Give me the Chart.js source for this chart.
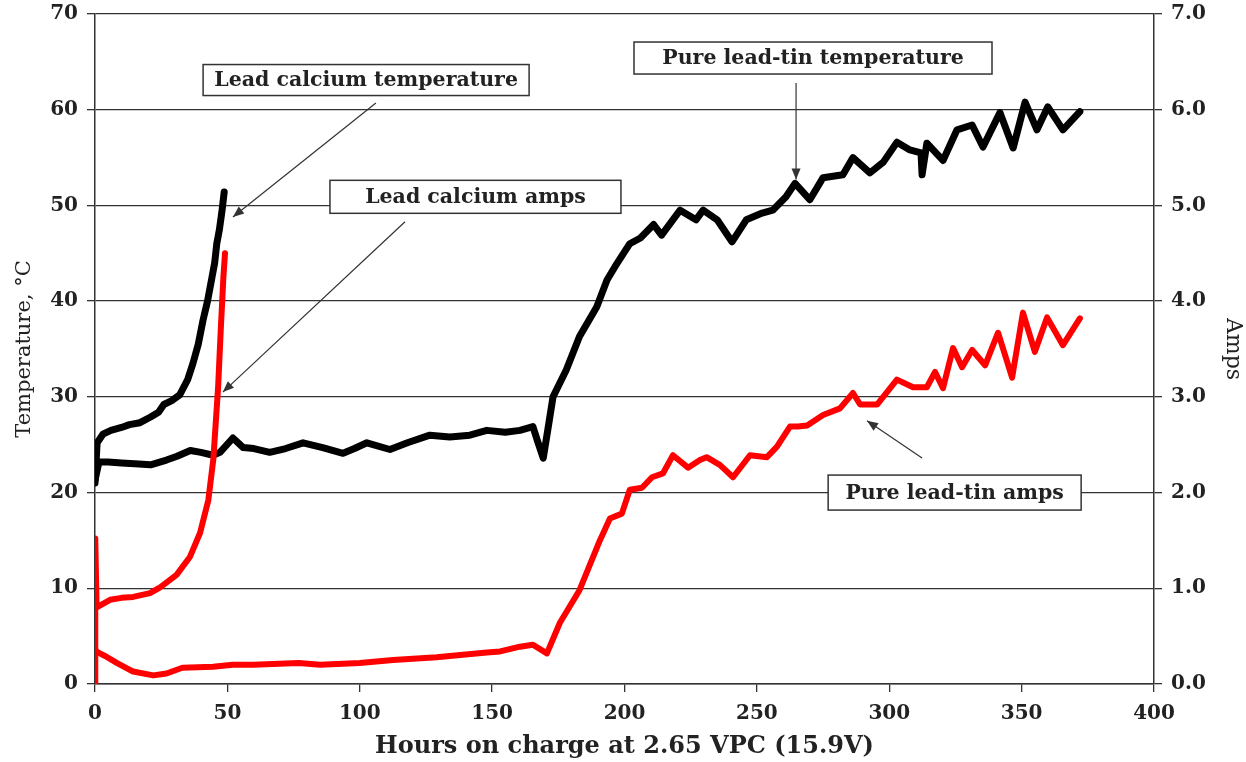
<!DOCTYPE html>
<html>
<head>
<meta charset="utf-8">
<script src="https://cdn.jsdelivr.net/npm/chart.js@4.4.1/dist/chart.umd.min.js"></script>
<style>
  html, body { margin: 0; padding: 0; background: #fff; }
  #wrap { width: 1246px; height: 762px; position: relative; }
</style>
</head>
<body>
<div id="wrap"><canvas id="myChart"></canvas></div>
<script>
// Enter your code below

// readings taken off the original figure (hours on charge)
let lcTempHours = [0, 0.8, 3, 6, 10, 13, 17, 21, 24, 26, 29, 32, 35, 37, 39, 40.8, 42.5, 44.2, 45.2, 46, 47, 48, 48.8];
let lcTempC = [21, 25.2, 26.1, 26.5, 26.8, 27.1, 27.3, 27.9, 28.4, 29.2, 29.6, 30.2, 31.8, 33.5, 35.5, 38, 40, 42.5, 44, 46, 47.5, 49.5, 51.4];

let lcAmpsHours = [0, 0.1, 0.6, 5.7, 10, 14.4, 20.8, 24.6, 30.8, 35.9, 39.7, 42.8, 44.7, 46.5, 47.5, 48.5, 49.1];
let lcAmps = [0, 1.52, 0.8, 0.88, 0.9, 0.91, 0.95, 1.01, 1.14, 1.33, 1.58, 1.92, 2.35, 3.1, 3.7, 4.25, 4.5];

let ptTempHours = [0, 1.5, 5, 10, 15, 21, 27, 31, 36, 40, 44.6, 47.2, 52.1, 56, 60, 66, 72, 78.6, 86, 93.7, 98, 102.7, 111.4, 118, 126.5, 134, 141.6, 148, 155, 160.5, 165.4, 167, 169.3, 171, 173, 178, 183, 189.5, 193.4, 196.4, 202, 206, 211, 214, 221, 227, 229.7, 235, 240.6, 246, 252, 256, 261, 264.4, 270, 275, 282.5, 286.3, 292.7, 297.7, 302.9, 307.8, 312, 312.4, 314.2, 320.3, 325.6, 331.3, 335.4, 341.8, 346.8, 351.3, 355.8, 359.9, 365.6, 372];
let ptTempC = [21.3, 23.2, 23.2, 23.1, 23.0, 22.9, 23.4, 23.8, 24.4, 24.2, 23.9, 24.2, 25.7, 24.7, 24.6, 24.2, 24.6, 25.2, 24.7, 24.1, 24.6, 25.2, 24.5, 25.2, 26.0, 25.8, 26.0, 26.5, 26.3, 26.5, 26.9, 25.5, 23.6, 26.5, 30, 32.8, 36.3, 39.4, 42.2, 43.6, 46, 46.6, 48, 46.9, 49.5, 48.5, 49.5, 48.5, 46.2, 48.5, 49.2, 49.5, 50.9, 52.3, 50.6, 52.9, 53.2, 55, 53.4, 54.5, 56.6, 55.8, 55.5, 53.2, 56.5, 54.7, 57.9, 58.4, 56.1, 59.7, 56, 60.8, 57.9, 60.3, 57.9, 59.8];

let ptAmpsHours = [0.3, 1.1, 4, 8.2, 14.4, 22, 27, 33, 44.6, 52, 59.7, 77, 85, 100, 112.6, 129, 148, 153, 160.5, 165.4, 170.7, 175.6, 183, 190.7, 194.5, 199, 202, 206.6, 210.4, 214.5, 218.3, 224, 228.5, 231, 236, 241, 247.4, 253.8, 257.6, 262.5, 265.5, 269, 275, 281.4, 286.3, 289, 295.4, 302.9, 309, 314.2, 317.3, 320.3, 324.1, 327.5, 331.3, 336.2, 341.1, 346.4, 350.5, 355, 359.6, 365.6, 372];
let ptAmps = [0.35, 0.33, 0.29, 0.22, 0.13, 0.09, 0.11, 0.17, 0.18, 0.20, 0.20, 0.22, 0.20, 0.22, 0.25, 0.28, 0.33, 0.34, 0.39, 0.41, 0.32, 0.64, 0.98, 1.50, 1.73, 1.78, 2.03, 2.05, 2.16, 2.20, 2.39, 2.26, 2.34, 2.37, 2.29, 2.16, 2.39, 2.37, 2.48, 2.69, 2.69, 2.70, 2.81, 2.88, 3.04, 2.92, 2.92, 3.18, 3.10, 3.10, 3.26, 3.09, 3.51, 3.31, 3.49, 3.33, 3.67, 3.20, 3.88, 3.47, 3.83, 3.54, 3.82];

let seriesNames = ["Lead calcium amps", "Pure lead-tin amps", "Lead calcium temperature", "Pure lead-tin temperature"];

// callout boxes: centre and arrow ends in data units (hours, degC), box size in px
let callouts = [
  { text: "Lead calcium temperature", at: [102.4, 63.1], w: 326, h: 31, from: [106.1, 60.7], to: [52.1, 48.8] },
  { text: "Lead calcium amps", at: [143.7, 50.9], w: 291, h: 33, from: [117.1, 48.3], to: [48.3, 30.5] },
  { text: "Pure lead-tin temperature", at: [271.2, 65.4], w: 358, h: 32, from: [264.8, 62.8], to: [264.8, 52.7] },
  { text: "Pure lead-tin amps", at: [324.7, 20.0], w: 253, h: 35, from: [312.4, 23.6], to: [291.6, 27.5] }
];

function pts(xs, ys) {
  return xs.map((h, i) => ({ x: h, y: ys[i] }));
}

const serif = '"DejaVu Serif", "Liberation Serif", serif';
const ink = '#222';

const calloutPlugin = {
  id: 'callouts',
  afterDatasetsDraw(chart) {
    const ctx = chart.ctx, sx = chart.scales.x, sy = chart.scales.y;
    ctx.save();
    callouts.forEach(c => {
      const x1 = sx.getPixelForValue(c.from[0]), y1 = sy.getPixelForValue(c.from[1]);
      const x2 = sx.getPixelForValue(c.to[0]), y2 = sy.getPixelForValue(c.to[1]);
      ctx.strokeStyle = '#333';
      ctx.fillStyle = '#333';
      ctx.lineWidth = 1.2;
      ctx.beginPath();
      ctx.moveTo(x1, y1);
      ctx.lineTo(x2, y2);
      ctx.stroke();
      const a = Math.atan2(y2 - y1, x2 - x1);
      ctx.beginPath();
      ctx.moveTo(x2, y2);
      ctx.lineTo(x2 - 11 * Math.cos(a) + 4.5 * Math.sin(a), y2 - 11 * Math.sin(a) - 4.5 * Math.cos(a));
      ctx.lineTo(x2 - 11 * Math.cos(a) - 4.5 * Math.sin(a), y2 - 11 * Math.sin(a) + 4.5 * Math.cos(a));
      ctx.closePath();
      ctx.fill();

      ctx.font = 'bold 20.5px ' + serif;
      const cx = sx.getPixelForValue(c.at[0]), cy = sy.getPixelForValue(c.at[1]);
      ctx.fillStyle = '#fff';
      ctx.fillRect(cx - c.w / 2, cy - c.h / 2, c.w, c.h);
      ctx.lineWidth = 1.5;
      ctx.strokeStyle = '#333';
      ctx.strokeRect(cx - c.w / 2, cy - c.h / 2, c.w, c.h);
      ctx.fillStyle = ink;
      ctx.textAlign = 'center';
      ctx.textBaseline = 'middle';
      ctx.fillText(c.text, cx, cy + 1);
    });
    ctx.restore();
  }
};

let chart = new Chart(document.getElementById("myChart"), {
  type: 'line',
  data: {
    datasets: [
      { label: seriesNames[0], data: pts(lcAmpsHours, lcAmps), yAxisID: 'y1', borderColor: '#ff0000', borderWidth: 6 },
      { label: seriesNames[1], data: pts(ptAmpsHours, ptAmps), yAxisID: 'y1', borderColor: '#ff0000', borderWidth: 6 },
      { label: seriesNames[2], data: pts(lcTempHours, lcTempC), yAxisID: 'y', borderColor: '#000', borderWidth: 7 },
      { label: seriesNames[3], data: pts(ptTempHours, ptTempC), yAxisID: 'y', borderColor: '#000', borderWidth: 7 }
    ]
  },
  options: {
    responsive: true,
    maintainAspectRatio: false,
    animation: false,
    layout: { padding: { top: 14, left: 0, right: 0, bottom: 0 } },
    elements: {
      point: { radius: 0 },
      line: { tension: 0, fill: false, borderJoinStyle: 'round', borderCapStyle: 'round' }
    },
    plugins: { legend: { display: false }, tooltip: { enabled: false } },
    scales: {
      x: {
        type: 'linear', min: 0, max: 400,
        afterFit(s) { s.height = 78; },
        ticks: { stepSize: 50, color: ink, font: { family: serif, size: 20, weight: 'bold' }, padding: 10, maxRotation: 0 },
        grid: { drawOnChartArea: false, drawTicks: true, tickLength: 8, color: '#333', lineWidth: 1.3 },
        border: { display: true, color: '#333', width: 1.5 },
        title: { display: true, text: 'Hours on charge at 2.65 VPC (15.9V)', color: ink, font: { family: serif, size: 24, weight: 'bold' }, padding: { top: 0, bottom: 1 } }
      },
      y: {
        type: 'linear', position: 'left', min: 0, max: 70,
        afterFit(s) { s.width = 95; s.paddingTop = 0; s.paddingBottom = 0; },
        ticks: { stepSize: 10, color: ink, font: { family: serif, size: 20, weight: 'bold' }, padding: 9 },
        grid: { drawOnChartArea: true, drawTicks: true, tickLength: 8, color: '#333', lineWidth: 1.3 },
        border: { display: true, color: '#333', width: 1.5 },
        title: { display: true, text: 'Temperature, °C', color: ink, font: { family: serif, size: 21 }, padding: { top: 12, bottom: 0 } }
      },
      y1: {
        type: 'linear', position: 'right', min: 0, max: 7,
        afterFit(s) { s.width = 92; s.paddingTop = 0; s.paddingBottom = 0; },
        ticks: { stepSize: 1, color: ink, font: { family: serif, size: 20, weight: 'bold' }, padding: 9, callback: v => v.toFixed(1) },
        grid: { drawOnChartArea: false, drawTicks: true, tickLength: 8, color: '#333', lineWidth: 1.3 },
        border: { display: true, color: '#333', width: 1.5 },
        title: { display: true, text: 'Amps', color: ink, font: { family: serif, size: 22 }, padding: { top: 0, bottom: 0 } }
      }
    }
  },
  plugins: [calloutPlugin]
});
</script>
</body>
</html>
